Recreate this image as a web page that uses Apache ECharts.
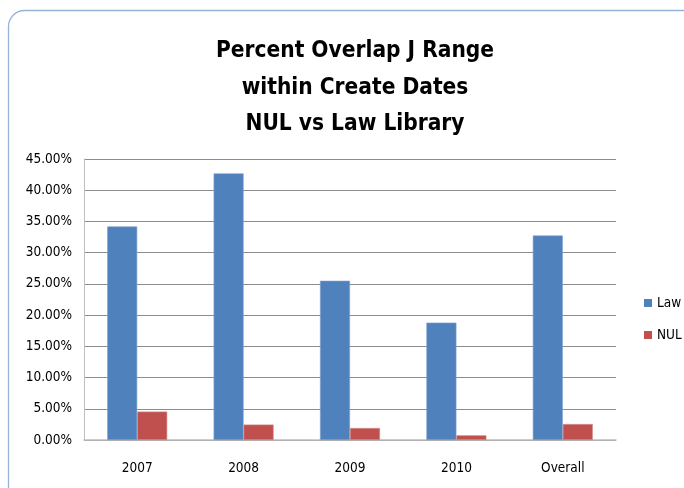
<!DOCTYPE html>
<html><head><meta charset="utf-8">
<script src="https://cdn.jsdelivr.net/npm/echarts@6/dist/echarts.min.js"></script>
<style>html,body{margin:0;padding:0;background:#fff}#c{width:684px;height:488px}</style>
</head><body><div id="c"></div>
<script>
const categories = ['2007', '2008', '2009', '2010', 'Overall'];
const lawValues = [34.2, 42.7, 25.5, 18.8, 32.75];
const nulValues = [4.55, 2.47, 1.92, 0.75, 2.56];
const titleLines = ['Percent Overlap J Range', 'within Create Dates', 'NUL vs Law Library'];

const chart = echarts.init(document.getElementById('c'));
const font = '"Liberation Sans Narrow", "DejaVu Sans Condensed", "Liberation Sans", sans-serif';
chart.setOption({
  animation: false,
  title: {
    text: titleLines.join('\n'),
    left: 350, top: 28, textAlign: 'center',
    textStyle: { fontFamily: font, fontWeight: 'bold', fontSize: 22.5, lineHeight: 36.5, color: '#000' }
  },
  graphic: [{
    type: 'rect', shape: { x: 8.5, y: 10.5, width: 720, height: 520, r: 16 },
    style: { fill: 'none', stroke: '#95B3D7', lineWidth: 1.3 }, silent: true, z: -1
  }],
  legend: {
    orient: 'vertical', left: 639, top: 291, itemWidth: 8, itemHeight: 8, itemGap: 18,
    icon: 'rect', itemStyle: { borderWidth: 0 },
    textStyle: { fontFamily: font, fontSize: 13.5, color: '#000' },
    data: ['Law', 'NUL']
  },
  grid: { left: 84, right: 68, top: 159, bottom: 48 },
  xAxis: {
    type: 'category', data: categories,
    axisLine: { lineStyle: { color: '#BFBFBF', width: 1.5 } },
    axisTick: { show: false },
    axisLabel: { margin: 21, fontFamily: font, fontSize: 13.5, color: '#000' }
  },
  yAxis: {
    type: 'value', min: 0, max: 45, interval: 5,
    axisLine: { show: true, lineStyle: { color: '#BFBFBF', width: 1 } },
    axisTick: { show: false },
    splitLine: { lineStyle: { color: '#8C8C8C', width: 1 } },
    axisLabel: { margin: 12, fontFamily: font, fontSize: 13.5, color: '#000',
      formatter: v => v.toFixed(2) + '%' }
  },
  series: [
    { name: 'Law', type: 'bar', data: lawValues, barWidth: 30, barGap: '0%',
      itemStyle: { color: '#4F81BD', borderColor: '#7FA3D0', borderWidth: 0.6 } },
    { name: 'NUL', type: 'bar', data: nulValues, barWidth: 30,
      itemStyle: { color: '#C0504D', borderColor: '#D48A88', borderWidth: 0.6 } }
  ]
});
</script></body></html>
